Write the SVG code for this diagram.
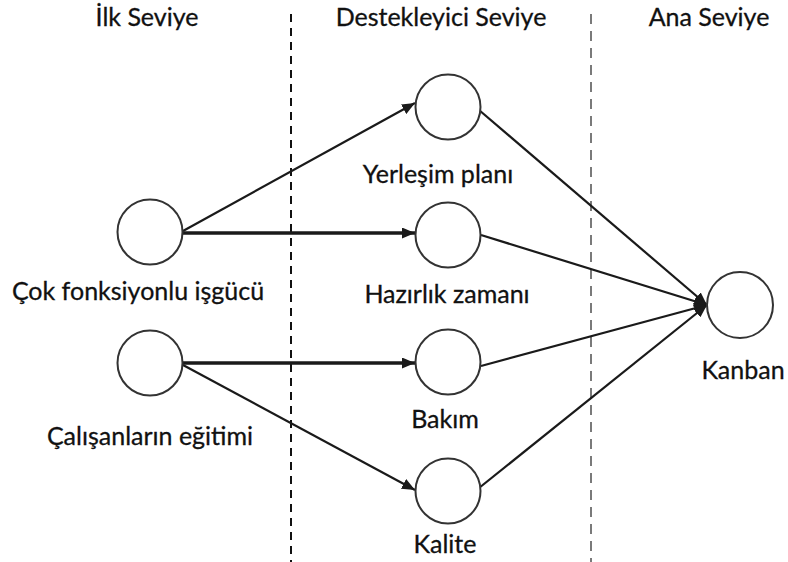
<svg xmlns="http://www.w3.org/2000/svg" width="788" height="562" viewBox="0 0 788 562">
  <style>
    .lbl { font-family: Lato, "Liberation Sans", sans-serif; font-size: 25px; fill: #111111; text-anchor: middle; stroke: #111111; stroke-width: 0.3; }
    .node circle { fill: #ffffff; stroke: #333333; stroke-width: 2; }
    .thin { stroke: #1a1a1a; stroke-width: 2.2; fill: none; }
    .thick { stroke: #1a1a1a; stroke-width: 3.5; fill: none; }
  </style>
  <defs>
    <marker id="arrow" viewBox="0 0 13 11" refX="13" refY="5.5" markerWidth="13" markerHeight="11" markerUnits="userSpaceOnUse" orient="auto">
      <path d="M0,0 L13,5.5 L0,11 Z" fill="#1a1a1a"/>
    </marker>
  </defs>
  <rect width="788" height="562" fill="#ffffff"/>

  <!-- level headers -->
  <g id="headers">
    <text class="lbl" x="147" y="26">İlk Seviye</text>
    <text class="lbl" x="441" y="26">Destekleyici Seviye</text>
    <text class="lbl" x="709" y="26">Ana Seviye</text>
  </g>

  <!-- level separators -->
  <g id="separators">
    <line x1="291" y1="14" x2="291" y2="562" stroke="#111111" stroke-width="2" stroke-dasharray="8 6"/>
    <line x1="591" y1="14" x2="591" y2="562" stroke="#7a7a7a" stroke-width="2" stroke-dasharray="10 7"/>
  </g>

  <!-- connectors -->
  <g id="connectors">
    <line class="thin" x1="183" y1="231" x2="415" y2="103" marker-end="url(#arrow)"/>
    <line class="thick" x1="183" y1="233" x2="415" y2="233" marker-end="url(#arrow)"/>
    <line class="thick" x1="183" y1="363" x2="415" y2="363" marker-end="url(#arrow)"/>
    <line class="thin" x1="183" y1="365" x2="415" y2="490" marker-end="url(#arrow)"/>
    <line class="thin" x1="479" y1="110" x2="707" y2="305" marker-end="url(#arrow)"/>
    <line class="thin" x1="481" y1="235" x2="707" y2="305" marker-end="url(#arrow)"/>
    <line class="thin" x1="481" y1="366" x2="707" y2="305" marker-end="url(#arrow)"/>
    <line class="thin" x1="479" y1="488" x2="707" y2="305" marker-end="url(#arrow)"/>
  </g>

  <!-- nodes -->
  <g id="node-cok-fonksiyonlu" class="node">
    <circle cx="150" cy="232" r="32.5"/>
    <text class="lbl" x="138" y="300">Çok fonksiyonlu işgücü</text>
  </g>
  <g id="node-calisan-egitimi" class="node">
    <circle cx="150" cy="363" r="32.5"/>
    <text class="lbl" x="150" y="445">Çalışanların eğitimi</text>
  </g>
  <g id="node-yerlesim" class="node">
    <circle cx="448" cy="107" r="32.5"/>
    <text class="lbl" x="438" y="183">Yerleşim planı</text>
  </g>
  <g id="node-hazirlik" class="node">
    <circle cx="448" cy="235" r="32.5"/>
    <text class="lbl" x="447" y="303">Hazırlık zamanı</text>
  </g>
  <g id="node-bakim" class="node">
    <circle cx="448" cy="362" r="32.5"/>
    <text class="lbl" x="445" y="428">Bakım</text>
  </g>
  <g id="node-kalite" class="node">
    <circle cx="448" cy="491" r="32.5"/>
    <text class="lbl" x="445" y="553">Kalite</text>
  </g>
  <g id="node-kanban" class="node">
    <circle cx="740" cy="305" r="33"/>
    <text class="lbl" x="743" y="379">Kanban</text>
  </g>
</svg>
